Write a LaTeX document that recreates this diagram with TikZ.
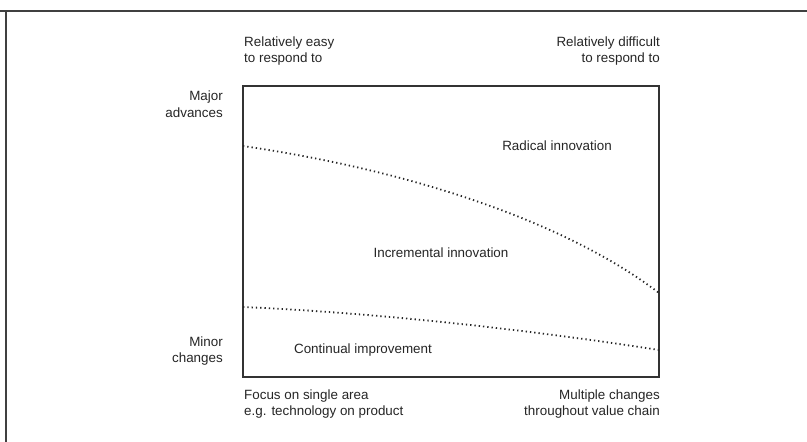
\documentclass[tikz,border=0pt]{standalone}
\usepackage{fontspec}
\setmainfont{Liberation Sans}
\begin{document}
\begin{tikzpicture}[x=1pt,y=-1pt,
  lbl/.style={inner sep=0pt, font=\fontsize{13.4}{16.5}\selectfont, text=black!85},
  frameline/.style={draw=black!75, line width=1.4pt},
  boxline/.style={draw=black!80, line width=1.1pt},
  dotline/.style={draw=black!85, line width=1.8pt, dash pattern=on 1.3pt off 3.0pt}]
\useasboundingbox (0,0) rectangle (807,442);
\fill[white] (0,0) rectangle (807,442);
% outer frame fragment
\coordinate (fl) at (0,11);
\coordinate (fr) at (807,11);
\coordinate (ft) at (6,11);
\coordinate (fb) at (6,442);
\draw[frameline] (fl) -- (fr);
\draw[frameline] (ft) -- (fb);
% main box
\coordinate (bl) at (243,377);
\coordinate (tr) at (659,86);
\draw[boxline] (bl) rectangle (tr);
% curves
\coordinate (u0) at (243,146);
\coordinate (u1) at (659,293);
\coordinate (l0) at (243,307);
\coordinate (l1) at (659,350);
\draw[dotline] (u0) .. controls (420,172) and (570,225) .. (u1);
\draw[dotline] (l0) .. controls (380,313) and (530,330) .. (l1);
% labels
\node[lbl, anchor=west, align=left] (easy) at (244,51) {Relatively easy\\to respond to};
\node[lbl, anchor=east, align=right] (diff) at (660,51) {Relatively difficult\\to respond to};
\node[lbl, anchor=east, align=right] (major) at (223,104) {Major\\advances};
\node[lbl, anchor=east, align=right] (minor) at (223,351) {Minor\\changes};
\node[lbl, anchor=west, align=left] (focus) at (244,404) {Focus on single area\\e.g. technology on product};
\node[lbl, anchor=east, align=right] (mult) at (660,404) {Multiple changes\\throughout value chain};
\node[lbl] (rad) at (557,146) {Radical innovation};
\node[lbl] (inc) at (441,253) {Incremental innovation};
\node[lbl] (cont) at (363,350) {Continual improvement};
\end{tikzpicture}
\end{document}
